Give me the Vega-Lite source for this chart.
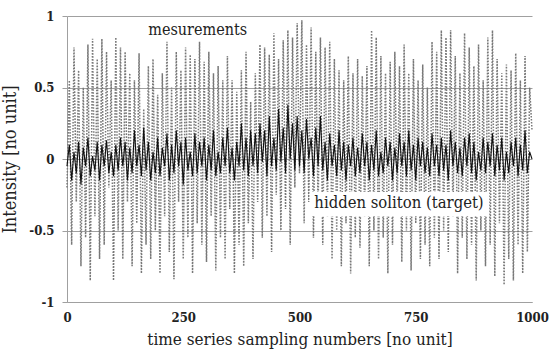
{
"$schema": "https://vega.github.io/schema/vega-lite/v6.json",
"width": 465, "height": 286,
"autosize": {"type": "none"},
"padding": {"left": 67, "top": 16, "right": 18, "bottom": 47},
"background": "white",
"config": {"view": {"stroke": null}},
"data": {"values": [
{"t":0,"m":-0.2,"s":-0.05},{"t":5,"m":0.55,"s":0.1},{"t":10,"m":-0.6,"s":-0.15},{"t":15,"m":0.78,"s":0.05},{"t":20,"m":-0.3,"s":-0.1},{"t":25,"m":0.62,"s":0.12},{"t":30,"m":-0.75,"s":-0.18},{"t":35,"m":0.5,"s":0.08},{"t":40,"m":-0.55,"s":-0.05},{"t":45,"m":0.8,"s":0.15},{"t":50,"m":-0.85,"s":-0.12},{"t":55,"m":0.84,"s":0.02},{"t":60,"m":-0.4,"s":-0.08},{"t":65,"m":0.7,"s":0.12},{"t":70,"m":-0.7,"s":-0.15},{"t":75,"m":0.84,"s":0.1},{"t":80,"m":-0.6,"s":-0.05},{"t":85,"m":0.75,"s":0.13},{"t":90,"m":-0.2,"s":-0.1},{"t":95,"m":0.55,"s":0.05},
{"t":100,"m":-0.85,"s":-0.12},{"t":105,"m":0.85,"s":0.1},{"t":110,"m":-0.5,"s":-0.08},{"t":115,"m":0.78,"s":0.15},{"t":120,"m":-0.7,"s":-0.05},{"t":125,"m":0.75,"s":0.12},{"t":130,"m":-0.3,"s":-0.15},{"t":135,"m":0.6,"s":0.08},{"t":140,"m":-0.75,"s":-0.1},{"t":145,"m":0.55,"s":0.2},{"t":150,"m":-0.45,"s":-0.05},{"t":155,"m":0.74,"s":0.1},{"t":160,"m":-0.8,"s":-0.12},{"t":165,"m":0.35,"s":0.22},{"t":170,"m":-0.6,"s":-0.08},{"t":175,"m":0.65,"s":0.12},{"t":180,"m":-0.7,"s":-0.15},{"t":185,"m":0.7,"s":0.05},{"t":190,"m":-0.5,"s":-0.1},{"t":195,"m":0.45,"s":0.15},
{"t":200,"m":-0.8,"s":-0.12},{"t":205,"m":0.6,"s":0.08},{"t":210,"m":-0.4,"s":-0.05},{"t":215,"m":0.82,"s":0.18},{"t":220,"m":-0.65,"s":-0.15},{"t":225,"m":0.5,"s":0.1},{"t":230,"m":-0.84,"s":-0.1},{"t":235,"m":0.75,"s":0.2},{"t":240,"m":-0.3,"s":-0.05},{"t":245,"m":0.62,"s":0.12},{"t":250,"m":-0.7,"s":-0.18},{"t":255,"m":0.78,"s":0.15},{"t":260,"m":-0.55,"s":-0.08},{"t":265,"m":0.73,"s":0.05},{"t":270,"m":-0.8,"s":-0.12},{"t":275,"m":0.7,"s":0.18},{"t":280,"m":-0.45,"s":-0.1},{"t":285,"m":0.82,"s":0.12},{"t":290,"m":-0.6,"s":-0.05},{"t":295,"m":0.68,"s":0.15},
{"t":300,"m":-0.72,"s":-0.15},{"t":305,"m":0.75,"s":0.1},{"t":310,"m":-0.4,"s":-0.08},{"t":315,"m":0.6,"s":0.2},{"t":320,"m":-0.78,"s":-0.12},{"t":325,"m":0.65,"s":0.05},{"t":330,"m":-0.55,"s":-0.1},{"t":335,"m":0.55,"s":0.15},{"t":340,"m":-0.7,"s":-0.05},{"t":345,"m":0.72,"s":0.22},{"t":350,"m":-0.35,"s":-0.1},{"t":355,"m":0.55,"s":0.08},{"t":360,"m":-0.8,"s":-0.15},{"t":365,"m":0.47,"s":0.12},{"t":370,"m":-0.6,"s":-0.05},{"t":375,"m":0.62,"s":0.25},{"t":380,"m":-0.75,"s":-0.08},{"t":385,"m":0.75,"s":0.15},{"t":390,"m":-0.45,"s":-0.12},{"t":395,"m":0.4,"s":0.2},
{"t":400,"m":-0.7,"s":-0.05},{"t":405,"m":0.6,"s":0.18},{"t":410,"m":-0.3,"s":-0.1},{"t":415,"m":0.8,"s":0.25},{"t":420,"m":-0.55,"s":-0.02},{"t":425,"m":0.78,"s":0.2},{"t":430,"m":-0.4,"s":-0.12},{"t":435,"m":0.73,"s":0.3},{"t":440,"m":-0.65,"s":-0.05},{"t":445,"m":0.88,"s":0.15},{"t":450,"m":-0.25,"s":-0.08},{"t":455,"m":0.7,"s":0.35},{"t":460,"m":-0.5,"s":-0.02},{"t":465,"m":0.83,"s":0.22},{"t":470,"m":-0.35,"s":-0.1},{"t":475,"m":0.9,"s":0.38},{"t":480,"m":-0.6,"s":0.0},{"t":485,"m":0.85,"s":0.25},{"t":490,"m":-0.2,"s":-0.08},{"t":495,"m":0.95,"s":0.3},
{"t":500,"m":-0.1,"s":-0.05},{"t":505,"m":0.97,"s":0.2},{"t":510,"m":-0.45,"s":-0.1},{"t":515,"m":0.8,"s":0.28},{"t":520,"m":-0.3,"s":0.0},{"t":525,"m":0.92,"s":0.15},{"t":530,"m":-0.55,"s":-0.12},{"t":535,"m":0.75,"s":0.22},{"t":540,"m":-0.35,"s":-0.05},{"t":545,"m":0.85,"s":0.3},{"t":550,"m":-0.6,"s":-0.08},{"t":555,"m":0.78,"s":0.12},{"t":560,"m":-0.4,"s":-0.15},{"t":565,"m":0.82,"s":0.18},{"t":570,"m":-0.7,"s":-0.05},{"t":575,"m":0.7,"s":0.1},{"t":580,"m":-0.5,"s":-0.12},{"t":585,"m":0.62,"s":0.2},{"t":590,"m":-0.75,"s":-0.08},{"t":595,"m":0.55,"s":0.12},
{"t":600,"m":-0.45,"s":-0.15},{"t":605,"m":0.72,"s":0.1},{"t":610,"m":-0.8,"s":-0.05},{"t":615,"m":0.6,"s":0.15},{"t":620,"m":-0.55,"s":-0.12},{"t":625,"m":0.7,"s":0.08},{"t":630,"m":-0.62,"s":-0.1},{"t":635,"m":0.58,"s":0.18},{"t":640,"m":-0.4,"s":-0.05},{"t":645,"m":0.65,"s":0.12},{"t":650,"m":-0.75,"s":-0.15},{"t":655,"m":0.9,"s":0.1},{"t":660,"m":-0.5,"s":-0.08},{"t":665,"m":0.85,"s":0.2},{"t":670,"m":-0.7,"s":-0.12},{"t":675,"m":0.72,"s":0.05},{"t":680,"m":-0.55,"s":-0.1},{"t":685,"m":0.6,"s":0.15},{"t":690,"m":-0.8,"s":-0.05},{"t":695,"m":0.68,"s":0.12},
{"t":700,"m":-0.6,"s":-0.15},{"t":705,"m":0.75,"s":0.08},{"t":710,"m":-0.35,"s":-0.1},{"t":715,"m":0.65,"s":0.18},{"t":720,"m":-0.72,"s":-0.05},{"t":725,"m":0.8,"s":0.12},{"t":730,"m":-0.5,"s":-0.12},{"t":735,"m":0.6,"s":0.2},{"t":740,"m":-0.78,"s":-0.08},{"t":745,"m":0.7,"s":0.1},{"t":750,"m":-0.45,"s":-0.15},{"t":755,"m":0.55,"s":0.15},{"t":760,"m":-0.7,"s":-0.05},{"t":765,"m":0.66,"s":0.12},{"t":770,"m":-0.6,"s":-0.1},{"t":775,"m":0.5,"s":0.08},{"t":780,"m":-0.75,"s":-0.12},{"t":785,"m":0.82,"s":0.18},{"t":790,"m":-0.55,"s":-0.05},{"t":795,"m":0.75,"s":0.1},
{"t":800,"m":-0.7,"s":-0.12},{"t":805,"m":0.9,"s":0.15},{"t":810,"m":-0.5,"s":-0.08},{"t":815,"m":0.85,"s":0.1},{"t":820,"m":-0.65,"s":-0.15},{"t":825,"m":0.9,"s":0.2},{"t":830,"m":-0.4,"s":-0.05},{"t":835,"m":0.72,"s":0.12},{"t":840,"m":-0.8,"s":-0.1},{"t":845,"m":0.6,"s":0.08},{"t":850,"m":-0.55,"s":-0.12},{"t":855,"m":0.88,"s":0.15},{"t":860,"m":-0.7,"s":-0.05},{"t":865,"m":0.78,"s":0.18},{"t":870,"m":-0.6,"s":-0.1},{"t":875,"m":0.65,"s":0.12},{"t":880,"m":-0.85,"s":-0.15},{"t":885,"m":0.8,"s":0.05},{"t":890,"m":-0.5,"s":-0.08},{"t":895,"m":0.55,"s":0.15},
{"t":900,"m":-0.75,"s":-0.1},{"t":905,"m":0.85,"s":0.12},{"t":910,"m":-0.6,"s":-0.05},{"t":915,"m":0.9,"s":0.18},{"t":920,"m":-0.82,"s":-0.12},{"t":925,"m":0.7,"s":0.1},{"t":930,"m":-0.45,"s":-0.08},{"t":935,"m":0.6,"s":0.15},{"t":940,"m":-0.88,"s":-0.15},{"t":945,"m":0.66,"s":0.05},{"t":950,"m":-0.7,"s":-0.1},{"t":955,"m":0.62,"s":0.12},{"t":960,"m":-0.85,"s":-0.05},{"t":965,"m":0.74,"s":0.15},{"t":970,"m":-0.6,"s":-0.12},{"t":975,"m":0.55,"s":0.1},{"t":980,"m":-0.8,"s":-0.08},{"t":985,"m":0.72,"s":0.2},{"t":990,"m":-0.65,"s":-0.1},{"t":995,"m":0.5,"s":0.05},
{"t":1000,"m":0.2,"s":0.0}
]},
"layer": [
{"mark": {"type": "line", "color": "#787878", "strokeWidth": 1.5, "strokeDash": [1.6, 1.4]},
 "encoding": {
  "x": {"field": "t", "type": "quantitative", "scale": {"domain": [0, 1000], "nice": false},
   "axis": {"values": [0, 250, 500, 750, 1000], "labelExpr": "datum.value + ''", "grid": false, "ticks": false, "domainColor": "#a0a0a0", "labelFont": "DejaVu Serif Condensed", "labelFontWeight": "bold", "labelFontSize": 13, "labelColor": "#222", "labelPadding": 9, "labelFlush": false, "title": "time series sampling numbers [no unit]", "titleFont": "DejaVu Serif Condensed", "titleFontWeight": "normal", "titleFontSize": 17, "titleColor": "#222", "titlePadding": 7}},
  "y": {"field": "m", "type": "quantitative", "scale": {"domain": [-1, 1], "nice": false},
   "axis": {"values": [-1, -0.5, 0, 0.5, 1], "labelExpr": "datum.value + ''", "grid": true, "gridColor": "#a0a0a0", "domainColor": "#a0a0a0", "tickColor": "#a0a0a0", "tickSize": 5, "labelFont": "DejaVu Serif Condensed", "labelFontWeight": "bold", "labelFontSize": 13, "labelColor": "#222", "labelPadding": 8, "title": "Intensity [no unit]", "titleFont": "DejaVu Serif Condensed", "titleFontWeight": "normal", "titleFontSize": 18, "titleColor": "#222", "titlePadding": 9}}
 }},
{"mark": {"type": "line", "color": "#111111", "strokeWidth": 1.1},
 "encoding": {
  "x": {"field": "t", "type": "quantitative"},
  "y": {"field": "s", "type": "quantitative", "title": "Intensity [no unit]"}
 }},
{"data": {"values": [{}]},
 "mark": {"type": "rect", "fill": "white"},
 "encoding": {"x": {"datum": 166}, "x2": {"datum": 397}, "y": {"datum": 0.83}, "y2": {"datum": 0.975}}},
{"data": {"values": [{}]},
 "mark": {"type": "rect", "fill": "white"},
 "encoding": {"x": {"datum": 522}, "x2": {"datum": 908}, "y": {"datum": -0.23}, "y2": {"datum": -0.40}}},
{"data": {"values": [{}]},
 "mark": {"type": "text", "font": "DejaVu Serif Condensed", "fontSize": 16, "color": "#222", "baseline": "middle", "align": "center"},
 "encoding": {"x": {"datum": 281}, "y": {"datum": 0.9}, "text": {"value": "mesurements"}}},
{"data": {"values": [{}]},
 "mark": {"type": "text", "font": "DejaVu Serif Condensed", "fontSize": 16.5, "color": "#222", "baseline": "middle", "align": "center"},
 "encoding": {"x": {"datum": 714}, "y": {"datum": -0.305}, "text": {"value": "hidden soliton (target)"}}}
]
}
